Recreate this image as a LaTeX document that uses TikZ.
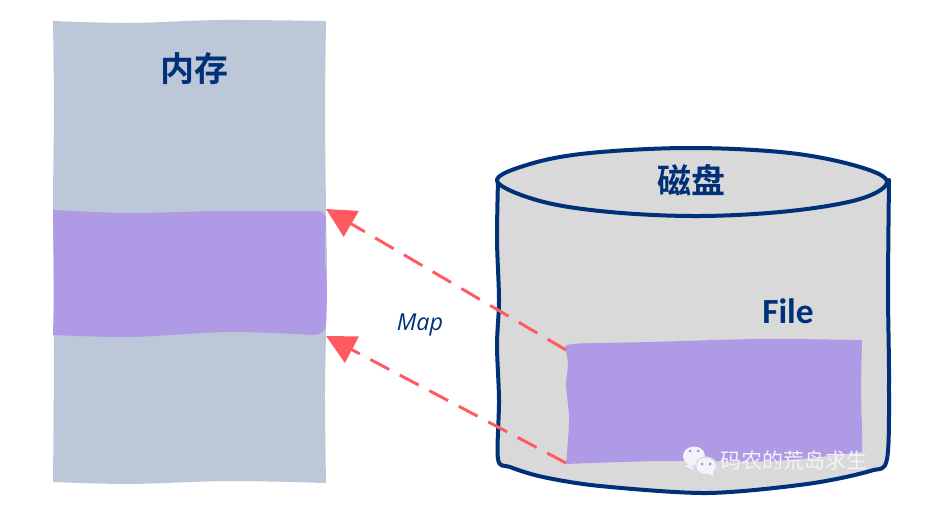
\documentclass[tikz,border=0pt]{standalone}
\usepackage{fontspec}
\setmainfont{Carlito}
\newfontfamily\cjk{Noto Sans CJK SC}[BoldFont={Noto Sans CJK SC Bold}]
\newfontfamily\mapfont{Open Sans}
\usepackage{tikz}
\usetikzlibrary{positioning,calc,arrows.meta}
\definecolor{navyink}{HTML}{003178}
\definecolor{memgray}{HTML}{BCC7D7}
\definecolor{mappurple}{HTML}{AF9BE5}
\definecolor{diskgray}{HTML}{D9D9D9}
\definecolor{maplink}{HTML}{FF5A60}
\definecolor{markwhite}{HTML}{F4F2FB}
\tikzstyle{line} = [draw=navyink,line width=3pt,line join=round,line cap=round]
\tikzstyle{maparrow} = [draw=maplink,line width=2.2pt,dash pattern=on 16pt off 9pt,-{Triangle[length=22pt,width=22pt,fill=maplink]}]
\tikzstyle{title} = [text=navyink,font=\cjk\bfseries\fontsize{25.5}{30}\selectfont]
\tikzstyle{edge} = [smooth,tension=0.5]

\begin{document}
\begin{tikzpicture}[x=0.75pt,y=-0.75pt]
          \useasboundingbox (0,0) rectangle (941,518);
          % memory column
          \fill[memgray] plot[edge] coordinates {(53,21) (130,23) (220,20) (326,21)}
            -- plot[edge] coordinates {(326,21) (325,110) (326,210) (327,280) (325,390) (326,483)}
            -- plot[edge] coordinates {(326,483) (230,481) (130,484) (53,482)}
            -- plot[edge] coordinates {(53,482) (54,350) (53,210) (54,110) (53,21)} -- cycle;
          \fill[mappurple] plot[edge] coordinates {(53,210) (130,213) (220,211) (316,211)}
            .. controls (323,211) and (326,214) .. (326,220)
            -- plot[edge] coordinates {(326,220) (325,255) (327,290) (326,324)}
            .. controls (326,331) and (322,334) .. (314,335)
            -- plot[edge] coordinates {(314,335) (230,332) (130,337) (53,335)}
            -- plot[edge] coordinates {(53,335) (54,280) (53,210)} -- cycle;
          \node[title] (memory) at (194,69) {内存};
          % disk
          \path[fill=diskgray] plot[edge] coordinates {(498,180) (497,300) (499,400) (498,460) (510,467) (543,477) (600,486) (707,493) (807,484) (870,471) (887,459) (888,380) (889,290) (888,180)};
          \draw[line] plot[edge] coordinates {(498,180) (497,240) (499,300) (497,345) (499,400) (498,459) (510,467) (543,477) (600,486) (707,493) (807,484) (870,471) (887,459) (889,380) (888,290) (889,180)};
          \draw[line,fill=diskgray] plot[smooth cycle,tension=0.6] coordinates {(497,181) (530,164) (590,153) (690,148) (790,153) (860,167) (887,182) (860,199) (790,211) (700,216) (610,212) (540,201)};
          \node[title] (disk) at (691,180) {磁盘};
          % file on the disk
          \fill[mappurple] plot[edge] coordinates {(566,351) (572,344) (650,342) (760,339) (862,340)}
            -- plot[edge] coordinates {(862,340) (861,390) (862,430) (862,452)}
            -- plot[edge] coordinates {(862,452) (773,461) (660,461) (566,464)}
            -- plot[edge] coordinates {(566,464) (568,440) (569,415) (566,385) (568,365) (566,351)} -- cycle;
          \node[text=navyink,font=\bfseries\fontsize{26.5}{30}\selectfont] (file) at (788,311) {File};
          % mapping
          \coordinate (fileTop) at (566,350);
          \coordinate (fileBottom) at (566,463);
          \coordinate (memTop) at (326,209);
          \coordinate (memBottom) at (326,336);
          \path[maparrow] (fileTop) -- (memTop);
          \path[maparrow] (fileBottom) -- (memBottom);
          \node[text=navyink,font=\mapfont\itshape\fontsize{17.5}{20}\selectfont] (map) at (420,325) {Map};
          % watermark
          \fill[markwhite] (694,456) ellipse [x radius=11,y radius=9.5];
          \fill[markwhite] (685,466) -- (690,464) -- (694,470) -- cycle;
          \draw[diskgray,line width=1pt,fill=markwhite] (706,466) ellipse [x radius=10.5,y radius=9];
          \fill[markwhite] (704,472) -- (713,472) -- (713,476) -- cycle;
          \foreach \eyeX/\eyeY in {690/451,698/451,702/464,710/464}
            \fill[mappurple!70!gray] (\eyeX,\eyeY) circle [radius=1.5];
          \node[text=markwhite,font=\cjk\fontsize{15.7}{18}\selectfont] (mark) at (794,461) {码农的荒岛求生};
        \end{tikzpicture}
\end{document}
